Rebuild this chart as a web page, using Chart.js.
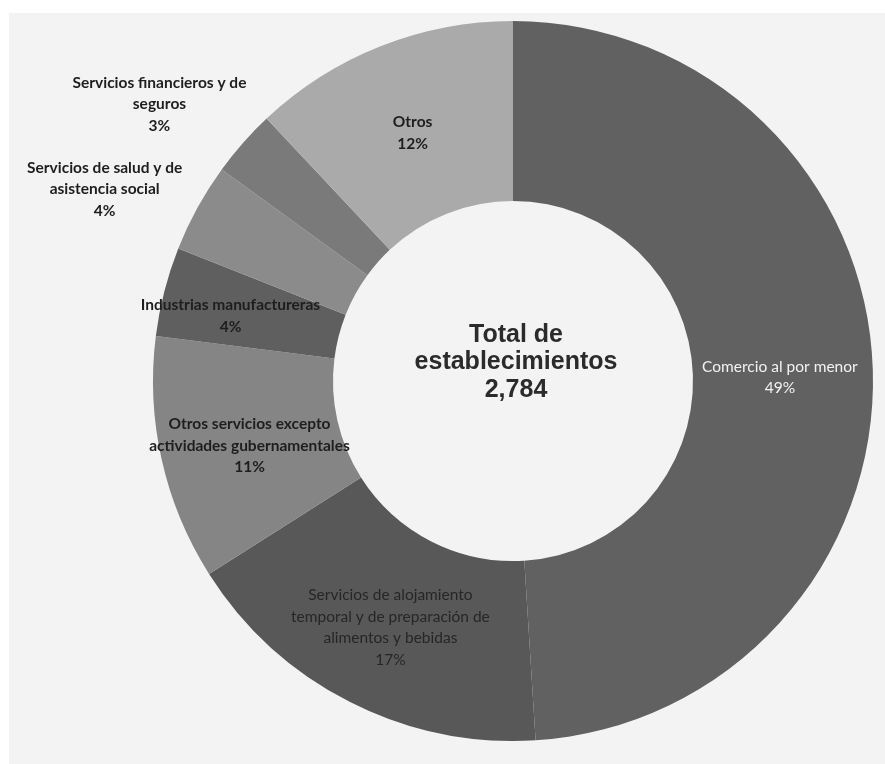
<!DOCTYPE html>
<html lang="es">
<head>
  <meta charset="UTF-8"/>
  <title>Total de establecimientos</title>
  <script src="https://cdn.jsdelivr.net/npm/chart.js"></script>
  <style>
    html, body { margin:0; padding:0; background:#fff; }
    #wrap { position:absolute; left:0; top:0; width:885px; height:764px; }
    #bg { position:absolute; left:9px; top:13px; width:876px; height:751px; background:#f3f3f3; }
    canvas { position:absolute; left:0; top:0; }
  </style>
</head>
<body>
<div id="wrap">
  <div id="bg"></div>
  <canvas id="pie" width="885" height="764"></canvas>
</div>
<script>
  // datos (porcentajes por sector)
  const sectores = [
    ["Comercio al por menor"],
    ["Servicios de alojamiento", "temporal y de preparación de", "alimentos y bebidas"],
    ["Otros servicios excepto", "actividades gubernamentales"],
    ["Industrias manufactureras"],
    ["Servicios de salud y de", "asistencia social"],
    ["Servicios financieros y de", "seguros"],
    ["Otros"]
  ];
  const porcentajes = [49, 17, 11, 4, 4, 3, 12];
  const colores = ["#616161", "#585858", "#858585", "#5f5f5f", "#8b8b8b", "#7a7a7a", "#aaaaaa"];
  const totalTexto = ["Total de", "establecimientos", "2,784"];

  // dónde va cada etiqueta: dentro del anillo o fuera
  const etiquetas = [
    { fuera: false, color: "#f2f2f2", dx: -3, dy: 5 },
    { fuera: false, color: "#262626", dx: 0, dy: 6 },
    { fuera: false, color: "#1e1e1e", dx: 0, dy: 6 },
    { fuera: false, color: "#1e1e1e", dx: -21, dy: 2 },
    { fuera: true,  color: "#1e1e1e", r: 1.25, dx: -14, dy: 25 },
    { fuera: true,  color: "#1e1e1e", r: 1.25, dx: -16, dy: 21 },
    { fuera: false, color: "#1e1e1e", dx: -1, dy: 3 }
  ];

  const textoPlugin = {
    id: "textoPlugin",
    afterDatasetsDraw(chart) {
      const ctx = chart.ctx;
      const meta = chart.getDatasetMeta(0);
      ctx.save();
      ctx.textAlign = "center";
      ctx.textBaseline = "middle";
      meta.data.forEach((arc, i) => {
        const conf = etiquetas[i];
        let x, y;
        if (conf.fuera) {
          const a = (arc.startAngle + arc.endAngle) / 2;
          x = arc.x + Math.cos(a) * arc.outerRadius * conf.r;
          y = arc.y + Math.sin(a) * arc.outerRadius * conf.r;
        } else {
          const p = arc.tooltipPosition();
          x = p.x; y = p.y;
        }
        x += conf.dx; y += conf.dy;
        const lineas = sectores[i].concat([porcentajes[i] + "%"]);
        const lh = 21.5;
        const y0 = y - (lineas.length - 1) * lh / 2;
        ctx.fillStyle = conf.color;
        ctx.font = (i === 0 || i === 1 ? "" : "bold ") + "15.5px Lato";
        lineas.forEach((t, k) => ctx.fillText(t, x, y0 + k * lh));
      });
      // texto central
      const c = meta.data[0];
      ctx.fillStyle = "#2b2b2b";
      ctx.font = "bold 25px 'Liberation Sans'";
      totalTexto.forEach((t, k) => ctx.fillText(t, c.x + 3, c.y - 46 + k * 27.5));
      ctx.restore();
    }
  };

  new Chart(document.getElementById("pie"), {
    type: "doughnut",
    data: {
      labels: sectores.map(s => s.join(" ")),
      datasets: [{
        data: porcentajes,
        backgroundColor: colores,
        borderWidth: 0
      }]
    },
    options: {
      responsive: false,
      animation: false,
      cutout: "50%",
      layout: { padding: { left: 153, right: 12, top: 21, bottom: 23 } },
      plugins: { legend: { display: false }, tooltip: { enabled: false } }
    },
    plugins: [textoPlugin]
  });
</script>
</body>
</html>
